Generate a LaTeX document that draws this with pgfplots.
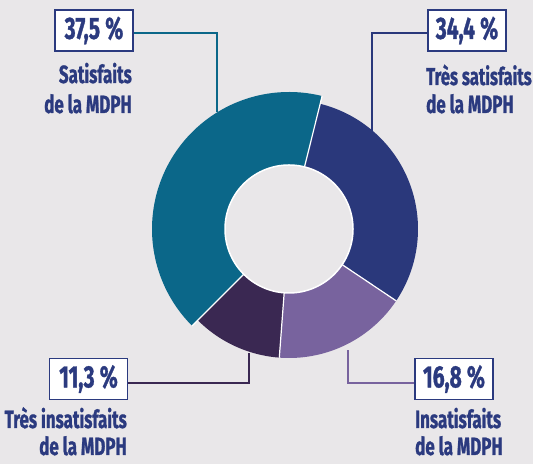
\documentclass[border=0pt]{standalone}
\usepackage{pgfplots}
\pgfplotsset{compat=1.18}
\usepackage{fontspec}
\setmainfont{Fira Sans}[FakeStretch=0.68, BoldFont={Fira Sans Bold}, BoldFeatures={FakeStretch=0.68, FakeBold=1}]
\definecolor{bg}{HTML}{E9E7E9}
\definecolor{cteal}{HTML}{0B6789}
\definecolor{cblue}{HTML}{2A387B}
\definecolor{cpurple}{HTML}{78639E}
\definecolor{cdark}{HTML}{3A2852}
\definecolor{navy}{HTML}{2B3A7F}
\begin{document}
\begin{tikzpicture}
\begin{axis}[x=1bp,y=1bp,xmin=-289,xmax=244,ymin=-235,ymax=229,hide axis,clip=false]
\fill[bg] (rel axis cs:0,0) rectangle (rel axis cs:1,1);
\coordinate (BL) at (rel axis cs:0,0);
\coordinate (TR) at (rel axis cs:1,1);
% sectors (annular): Très satisfaits 34,4 ; Insatisfaits 16,8 ; Très insatisfaits 11,3 ; Satisfaits 37,5
\addplot[draw=cblue, line width=65bp, domain=-33.84:90, samples=80, variable=\t] ({96.5*cos(t)},{96.5*sin(t)});
\addplot[draw=cpurple, line width=65bp, domain=-94.32:-33.84, samples=60, variable=\t] ({96.5*cos(t)},{96.5*sin(t)});
\addplot[draw=cdark, line width=65bp, domain=-135:-94.32, samples=50, variable=\t] ({96.5*cos(t)},{96.5*sin(t)});
\addplot[draw=cteal, line width=73bp, domain=76:225, samples=100, variable=\t] ({100.5*cos(t)},{100.5*sin(t)});
% white separators
\addplot[white, line width=1.2bp, domain=64:129, samples=2, variable=\t] ({t*cos(-33.84)},{t*sin(-33.84)});
\addplot[white, line width=1.2bp, domain=64:129, samples=2, variable=\t] ({t*cos(-94.32)},{t*sin(-94.32)});
\addplot[white, line width=1.2bp, domain=64:137, samples=2, variable=\t] ({t*cos(225)},{t*sin(225)});
\addplot[white, line width=1.2bp, domain=64:137, samples=2, variable=\t] ({t*cos(76)},{t*sin(76)});
% inner hole
\addplot[fill=bg, draw=white, line width=1.5bp, domain=0:360, samples=121, variable=\t] ({64*cos(t)},{64*sin(t)});
% connectors
\addplot[cteal, line width=1.4bp] coordinates {(-156,196) (-72,196) (-72,117)};
\addplot[cblue, line width=1.4bp] coordinates {(139,196) (83,196) (83,96)};
\addplot[cdark, line width=1.4bp] coordinates {(-162,-154) (-40,-154) (-40,-124)};
\addplot[cpurple, line width=1.4bp] coordinates {(126,-154) (59,-154) (59,-121)};
% boxes
\tikzset{pbox/.style={draw=navy, fill=white, line width=1.8bp, minimum width=78bp, minimum height=41bp, inner sep=0pt, text=navy, font=\bfseries\fontsize{31}{31}\selectfont},
lab/.style={text=navy, font=\bfseries\fontsize{25}{28}\selectfont, inner sep=0pt}}
\node[pbox] at (axis cs:-195,198.5) {37,5\,\%};
\node[pbox] at (axis cs:178,198.5) {34,4\,\%};
\node[pbox] at (axis cs:-200.5,-150) {11,3\,\%};
\node[pbox] at (axis cs:165,-150) {16,8\,\%};
% labels
\node[lab, anchor=base east] at (axis cs:-157,146) {Satisfaits};
\node[lab, anchor=base east] at (axis cs:-157,116) {de la MDPH};
\node[lab, anchor=base west, font=\bfseries\fontsize{24.5}{28}\selectfont] at (axis cs:137,144) {Très satisfaits};
\node[lab, anchor=base west] at (axis cs:137,116) {de la MDPH};
\node[lab, anchor=base east] at (axis cs:-162,-199) {Très insatisfaits};
\node[lab, anchor=base east] at (axis cs:-162,-226) {de la MDPH};
\node[lab, anchor=base west] at (axis cs:126,-199) {Insatisfaits};
\node[lab, anchor=base west] at (axis cs:126,-226) {de la MDPH};
\end{axis}
\pgfresetboundingbox
\useasboundingbox (BL) rectangle (TR);
\end{tikzpicture}
\end{document}
